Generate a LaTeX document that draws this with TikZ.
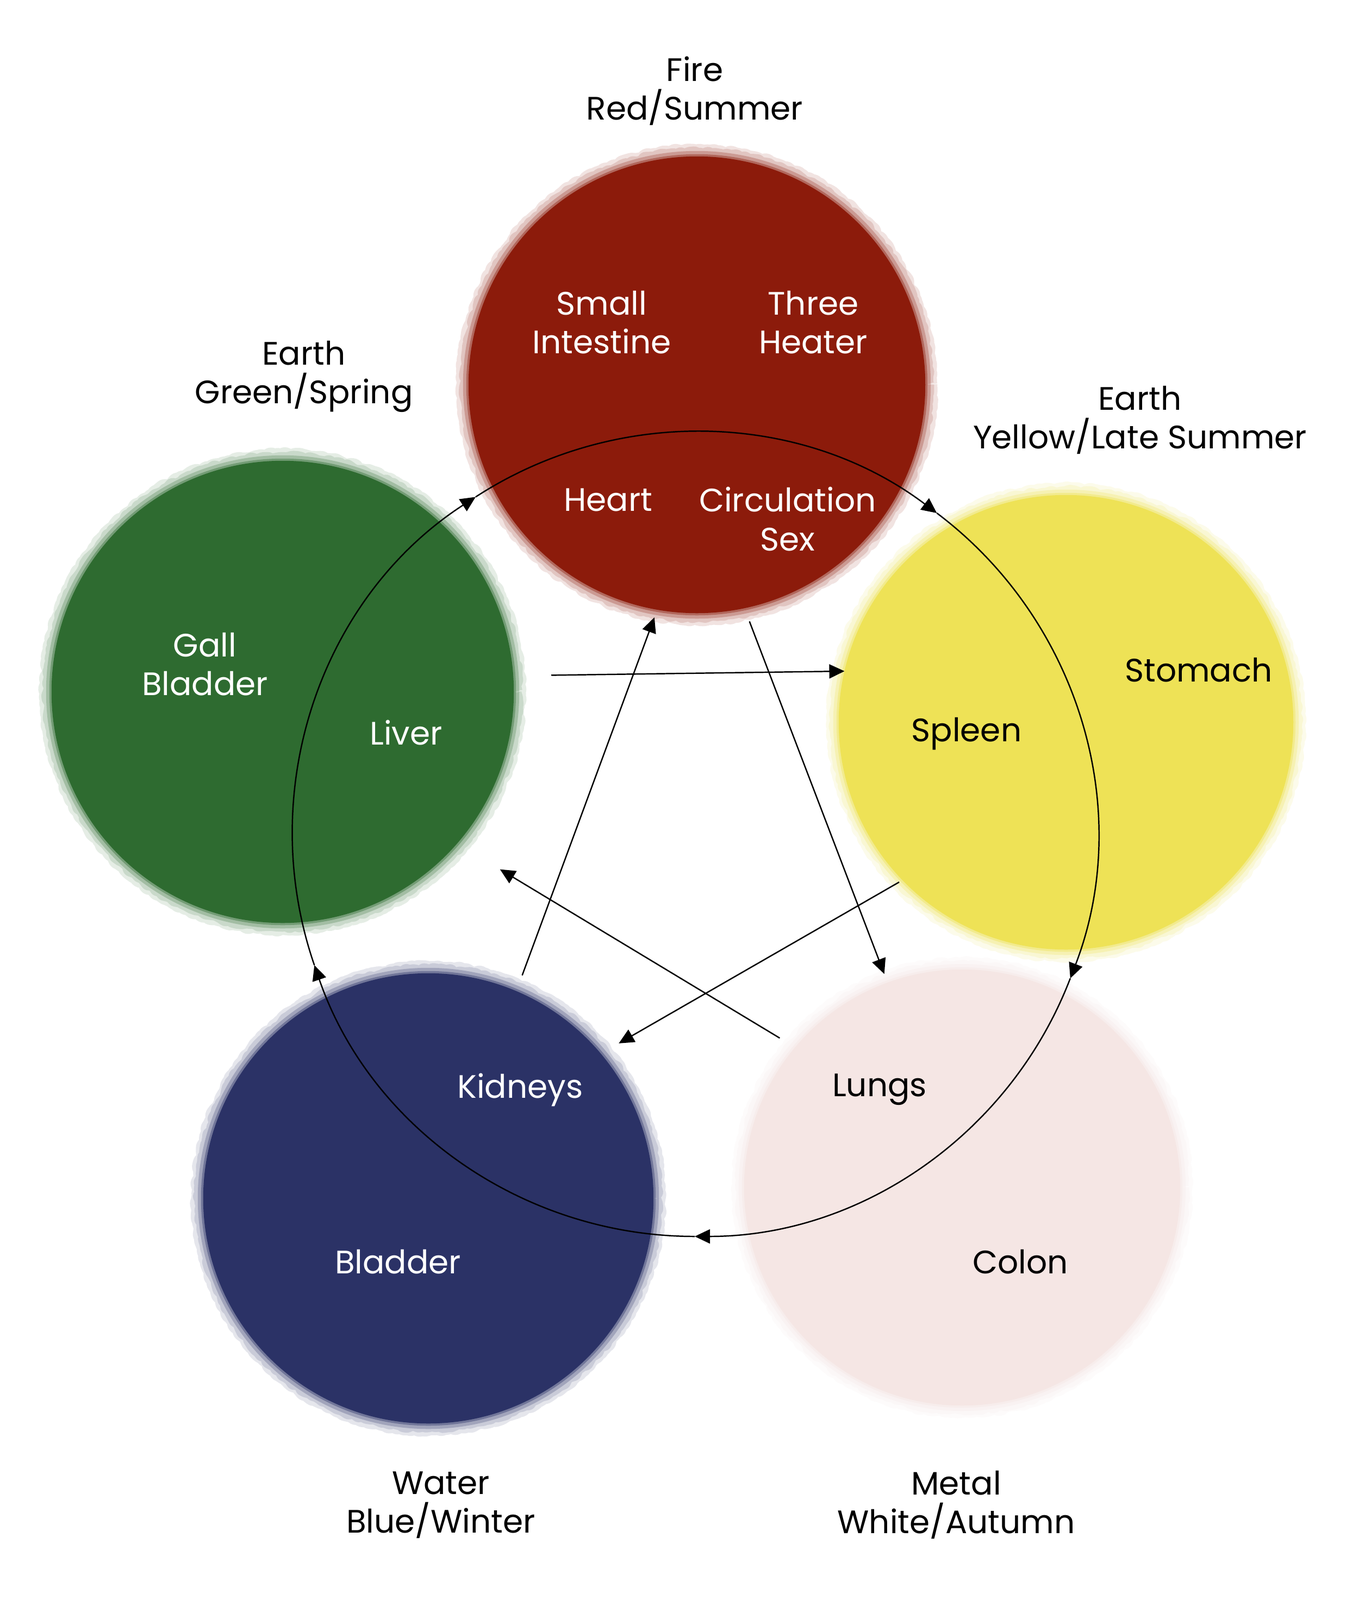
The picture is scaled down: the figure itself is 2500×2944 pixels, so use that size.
\documentclass[tikz,border=0pt]{standalone}
\usepackage{fontspec}
\setmainfont{Poppins}
\usetikzlibrary{arrows.meta, decorations.pathmorphing}

\definecolor{firered}{HTML}{8C1B0B}
\definecolor{woodgreen}{HTML}{2E6B30}
\definecolor{earthyellow}{HTML}{EEE256}
\definecolor{waterblue}{HTML}{2B3266}
\definecolor{metalwhite}{HTML}{F5E6E4}

\begin{document}
\begin{tikzpicture}[
    x=0.01cm, y=0.01cm,
    blob/.style={circle, inner sep=0pt, outer sep=0pt, fill=#1,
        preaction={draw=#1, line width=4.4mm, draw opacity=0.12, line join=round,
            decorate, decoration={random steps, segment length=1.5pt, amplitude=0.8pt}},
        preaction={draw=#1, line width=3.2mm, draw opacity=0.15, line join=round,
            decorate, decoration={random steps, segment length=2pt, amplitude=0.8pt}},
        preaction={draw=#1, line width=2mm, draw opacity=0.25},
        preaction={draw=#1, line width=0.8mm, draw opacity=0.4}},
    lbl/.style={align=center, font=\fontsize{17}{20.2}\selectfont},
    inlbl/.style={lbl, text=white},
    >={Triangle[length=2.8mm, width=2.6mm]},
    every path/.style={line width=0.7pt}]

\fill[white] (0,0) rectangle (2500,-2944);
\useasboundingbox (0,0) rectangle (2500,-2944);

% Element circles
\node[blob=firered, minimum size=8.4cm] (fire) at (1282,-708) {};
\node[blob=woodgreen, minimum size=8.5cm] (wood) at (520,-1273) {};
\node[blob=earthyellow, minimum size=8.36cm] (earth) at (1961,-1329) {};
\node[blob=waterblue, minimum size=8.28cm] (water) at (788,-2205) {};
\node[blob=metalwhite, minimum size=8.02cm] (metal) at (1770,-2185) {};

% Element titles
\node[lbl] (firetitle) at (1278,-167) {Fire\\Red/Summer};
\node[lbl] (woodtitle) at (559,-693) {Earth\\Green/Spring};
\node[lbl] (earthtitle) at (2097,-773) {Earth\\Yellow/Late Summer};
\node[lbl] (watertitle) at (811,-2769) {Water\\Blue/Winter};
\node[lbl] (metaltitle) at (1759,-2769) {Metal\\White/Autumn};

% Organs
\node[inlbl] (smallint) at (1107,-593) {Small\\Intestine};
\node[inlbl] (heater) at (1496,-593) {Three\\Heater};
\node[inlbl] (heart) at (1119,-920) {Heart};
\node[inlbl] (circsex) at (1449,-955) {Circulation\\Sex};
\node[inlbl] (gall) at (377,-1222) {Gall\\Bladder};
\node[inlbl] (liver) at (747,-1348) {Liver};
\node[lbl] (stomach) at (2205,-1233) {Stomach};
\node[lbl] (spleen) at (1778,-1350) {Spleen};
\node[inlbl] (kidneys) at (957,-2005) {Kidneys};
\node[inlbl] (bladder) at (732,-2322) {Bladder};
\node[lbl] (lungs) at (1618,-2005) {Lungs};
\node[lbl] (colon) at (1877,-2322) {Colon};

% Generating cycle
\coordinate (hub) at (1278,-1535);
\foreach \a/\b in {123/53, 53/-21, -21/-90, -90/-161, -161/-237}
    \draw[->] ([shift={(hub)}]\a:740) arc[start angle=\a, end angle=\b, radius=740];

% Controlling star
\draw[->, shorten <=0.7cm] (wood.4.4) -- (earth.167.6);
\draw[->, shorten <=0.26cm, shorten >=0.17cm] (fire.-78.6) -- (metal.110.4);
\draw[->, shorten <=0.07cm, shorten >=0.38cm] (earth.224.1) -- (water.40.5);
\draw[->, shorten <=0.33cm, shorten >=0.92cm] (metal.140.2) -- (wood.-41.9);
\draw[->, shorten <=0.31cm, shorten >=0.15cm] (water.67.9) -- (fire.-100.2);
\end{tikzpicture}
\end{document}
